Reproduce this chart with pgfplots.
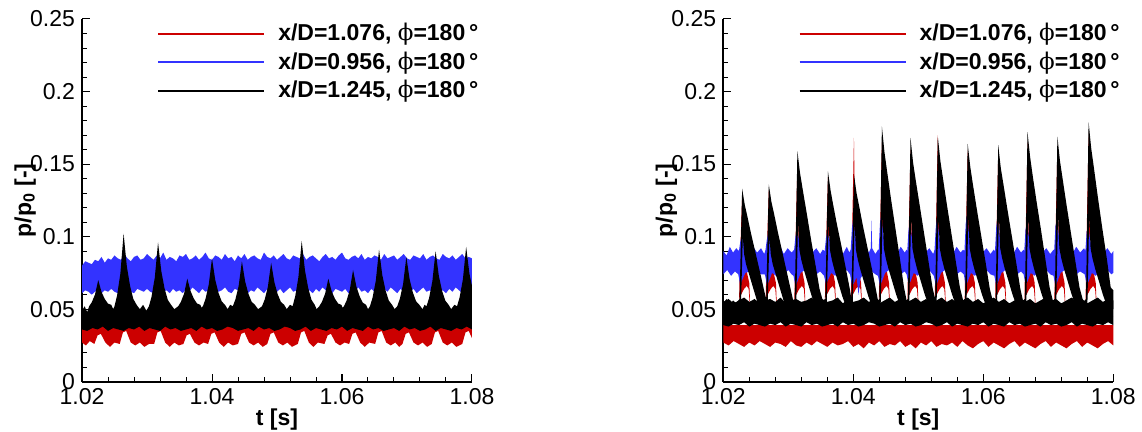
\documentclass[border=0pt]{standalone}
\usepackage{fontspec}
\setmainfont{Liberation Sans}
\newfontfamily\symfont{DejaVu Serif}
\usepackage{pgfplots}
\pgfplotsset{compat=1.18}
\usepgfplotslibrary{fillbetween}
\definecolor{cred}{RGB}{204,0,0}
\definecolor{cblue}{RGB}{51,51,255}
\newcommand\phisym{{\symfont\mdseries ϕ}}
\pgfplotsset{panel/.style={
  scale only axis, width=195pt, height=181.35pt,
  xmin=1.02, xmax=1.08, ymin=0, ymax=0.25,
  axis lines=left, axis line style={-, line width=1pt},
  xtick={1.02,1.04,1.06,1.08}, xticklabels={1.02,1.04,1.06,1.08},
  ytick={0,0.05,0.1,0.15,0.2,0.25}, yticklabels={0,0.05,0.1,0.15,0.2,0.25},
  minor x tick num=4, minor y tick num=4,
  tick align=inside, major tick length=4pt, minor tick length=2.5pt,
  every tick/.style={black, line width=0.5pt},
  ticklabel style={font=\fontsize{11.5}{13}\selectfont},
  label style={font=\bfseries\fontsize{11.5}{13}\selectfont},
  xlabel={t [s]}, ylabel={p/p\textsubscript{0} [-]},
  xlabel style={at={(axis description cs:0.5,-0.105)}, anchor=center},
  ylabel style={at={(axis description cs:-0.146,0.5)}, anchor=center},
  legend style={draw=none, fill=none, at={(axis description cs:0.192,1.0)}, anchor=north west,
    font=\bfseries\fontsize{11.5}{14}\selectfont, inner sep=0pt, row sep=0pt},
  legend cell align=left,
  legend image code/.code={\draw[##1] (0pt,0pt) -- (53pt,0pt);},
  clip=true,
}}
\begin{document}
\begin{tikzpicture}
% ================= LEFT PANEL =================
\begin{axis}[panel, at={(41pt,25.15pt)}, anchor=south west]
\addlegendimage{cred, line width=1pt}\addlegendentry{\hspace{4.5pt}x/D=1.076, \phisym=180\,°}
\addlegendimage{cblue, line width=1pt}\addlegendentry{\hspace{4.5pt}x/D=0.956, \phisym=180\,°}
\addlegendimage{black, line width=1pt}\addlegendentry{\hspace{4.5pt}x/D=1.245, \phisym=180\,°}
% red
\addplot[draw=none, name path=LRu, forget plot] coordinates {(1.0200,.040)(1.0800,.040)};
\addplot[draw=none, name path=LRl, forget plot] coordinates {
(1.0200,.027)(1.0206,.025)(1.0212,.028)
(1.0219,.026)(1.0224,.032)(1.0229,.033)(1.0236,.027)(1.0243,.024)(1.0250,.027)
(1.0258,.026)(1.0263,.034)(1.0268,.035)(1.0275,.027)(1.0282,.025)(1.0289,.027)(1.0296,.024)(1.0303,.026)
(1.0311,.026)(1.0316,.034)(1.0321,.035)(1.0328,.027)(1.0335,.024)(1.0342,.027)(1.0349,.025)
(1.0356,.026)(1.0361,.032)(1.0366,.033)(1.0373,.027)(1.0380,.025)(1.0387,.027)
(1.0394,.026)(1.0399,.033)(1.0404,.034)(1.0411,.027)(1.0418,.024)(1.0425,.027)(1.0432,.025)
(1.0440,.026)(1.0445,.033)(1.0450,.034)(1.0457,.027)(1.0464,.025)(1.0471,.027)(1.0478,.024)
(1.0485,.026)(1.0490,.033)(1.0495,.034)(1.0502,.027)(1.0509,.025)(1.0516,.027)(1.0523,.024)
(1.0532,.026)(1.0537,.034)(1.0542,.035)(1.0549,.027)(1.0556,.024)(1.0563,.027)
(1.0573,.026)(1.0578,.032)(1.0583,.033)(1.0590,.027)(1.0597,.025)(1.0604,.027)
(1.0611,.026)(1.0616,.033)(1.0621,.034)(1.0628,.027)(1.0635,.024)(1.0642,.027)
(1.0651,.026)(1.0656,.034)(1.0661,.035)(1.0668,.027)(1.0675,.025)(1.0682,.027)(1.0688,.024)
(1.0693,.026)(1.0698,.033)(1.0703,.034)(1.0710,.027)(1.0717,.025)(1.0724,.027)(1.0731,.024)
(1.0738,.026)(1.0743,.034)(1.0748,.035)(1.0755,.027)(1.0762,.025)(1.0769,.027)(1.0776,.024)
(1.0785,.026)(1.0790,.034)(1.0795,.035)(1.0800,.030)};
\addplot[cred, draw=none, forget plot] fill between[of=LRu and LRl];
% blue upper
\addplot[draw=none, name path=LBu, forget plot] coordinates {
(1.0200,.080)(1.0205,.083)(1.0210,.082)(1.0215,.081)(1.0220,.084)(1.0225,.083)(1.0230,.086)(1.0235,.082)(1.0240,.085)(1.0245,.084)
(1.0250,.087)(1.0255,.085)(1.0260,.084)(1.0265,.088)(1.0270,.085)(1.0275,.083)(1.0280,.086)(1.0285,.087)(1.0290,.084)(1.0295,.085)
(1.0300,.088)(1.0305,.086)(1.0310,.084)(1.0315,.087)(1.0320,.085)(1.0325,.089)(1.0330,.084)(1.0335,.086)(1.0340,.085)(1.0345,.083)
(1.0350,.087)(1.0355,.086)(1.0360,.088)(1.0365,.084)(1.0370,.085)(1.0375,.087)(1.0380,.084)(1.0385,.086)(1.0390,.089)(1.0395,.085)
(1.0400,.084)(1.0405,.087)(1.0410,.086)(1.0415,.084)(1.0420,.088)(1.0425,.085)(1.0430,.086)(1.0435,.083)(1.0440,.087)(1.0445,.085)
(1.0450,.088)(1.0455,.084)(1.0460,.086)(1.0465,.087)(1.0470,.085)(1.0475,.084)(1.0480,.089)(1.0485,.086)(1.0490,.085)(1.0495,.087)
(1.0500,.084)(1.0505,.086)(1.0510,.088)(1.0515,.085)(1.0520,.084)(1.0525,.087)(1.0530,.086)(1.0535,.085)(1.0540,.088)(1.0545,.084)
(1.0550,.086)(1.0555,.087)(1.0560,.085)(1.0565,.083)(1.0570,.086)(1.0575,.088)(1.0580,.085)(1.0585,.086)(1.0590,.084)(1.0595,.087)
(1.0600,.089)(1.0605,.085)(1.0610,.084)(1.0615,.086)(1.0620,.087)(1.0625,.085)(1.0630,.088)(1.0635,.084)(1.0640,.086)(1.0645,.085)
(1.0650,.087)(1.0655,.086)(1.0660,.084)(1.0665,.088)(1.0670,.085)(1.0675,.086)(1.0680,.087)(1.0685,.084)(1.0690,.086)(1.0695,.088)
(1.0700,.085)(1.0705,.084)(1.0710,.087)(1.0715,.086)(1.0720,.085)(1.0725,.088)(1.0730,.084)(1.0735,.086)(1.0740,.087)(1.0745,.085)
(1.0750,.084)(1.0755,.088)(1.0760,.086)(1.0765,.085)(1.0770,.087)(1.0775,.084)(1.0780,.086)(1.0785,.088)(1.0790,.085)(1.0795,.086)
(1.0800,.085)};
% blue lower
\addplot[draw=none, name path=LBl, forget plot] coordinates {
(1.0200,.061)(1.0205,.063)(1.0210,.062)(1.0215,.060)(1.0220,.062)(1.0225,.064)(1.0230,.061)(1.0235,.063)(1.0240,.062)(1.0245,.064)
(1.0250,.062)(1.0255,.061)(1.0260,.064)(1.0265,.063)(1.0270,.065)(1.0275,.062)(1.0280,.061)(1.0285,.064)(1.0290,.063)(1.0295,.062)
(1.0300,.064)(1.0305,.062)(1.0310,.061)(1.0315,.063)(1.0320,.065)(1.0325,.062)(1.0330,.063)(1.0335,.061)(1.0340,.064)(1.0345,.062)
(1.0350,.063)(1.0355,.061)(1.0360,.064)(1.0365,.062)(1.0370,.065)(1.0375,.063)(1.0380,.061)(1.0385,.064)(1.0390,.062)(1.0395,.063)
(1.0400,.061)(1.0405,.064)(1.0410,.062)(1.0415,.063)(1.0420,.065)(1.0425,.062)(1.0430,.061)(1.0435,.064)(1.0440,.063)(1.0445,.062)
(1.0450,.064)(1.0455,.061)(1.0460,.063)(1.0465,.062)(1.0470,.065)(1.0475,.063)(1.0480,.061)(1.0485,.064)(1.0490,.062)(1.0495,.063)
(1.0500,.062)(1.0505,.064)(1.0510,.061)(1.0515,.063)(1.0520,.065)(1.0525,.062)(1.0530,.063)(1.0535,.061)(1.0540,.064)(1.0545,.062)
(1.0550,.063)(1.0555,.061)(1.0560,.064)(1.0565,.062)(1.0570,.065)(1.0575,.063)(1.0580,.062)(1.0585,.061)(1.0590,.064)(1.0595,.063)
(1.0600,.062)(1.0605,.064)(1.0610,.061)(1.0615,.063)(1.0620,.062)(1.0625,.065)(1.0630,.062)(1.0635,.063)(1.0640,.061)(1.0645,.064)
(1.0650,.062)(1.0655,.063)(1.0660,.061)(1.0665,.064)(1.0670,.062)(1.0675,.065)(1.0680,.063)(1.0685,.061)(1.0690,.064)(1.0695,.062)
(1.0700,.063)(1.0705,.062)(1.0710,.064)(1.0715,.061)(1.0720,.063)(1.0725,.065)(1.0730,.062)(1.0735,.063)(1.0740,.061)(1.0745,.064)
(1.0750,.062)(1.0755,.063)(1.0760,.061)(1.0765,.064)(1.0770,.062)(1.0775,.065)(1.0780,.063)(1.0785,.061)(1.0790,.062)(1.0795,.064)
(1.0800,.062)};
\addplot[cblue, draw=none, forget plot] fill between[of=LBu and LBl];
% black upper
\addplot[draw=none, name path=LKu, forget plot] coordinates {
(1.0200,.049)(1.0204,.052)(1.0208,.048)
(1.0211,.052)(1.0215,.0547)(1.0220,.0601)(1.0225,.070)(1.0230,.0619)(1.0235,.057)(1.0240,.0538)(1.0245,.053)(1.0248,.050)
(1.0250,.052)(1.0254,.0595)(1.0259,.0745)(1.0264,.102)(1.0269,.0795)(1.0274,.066)(1.0279,.057)(1.0284,.053)(1.0289,.050)(1.0294,.053)(1.0299,.049)
(1.0303,.052)(1.0307,.0586)(1.0312,.0718)(1.0317,.096)(1.0322,.0762)(1.0327,.0643)(1.0332,.0564)(1.0337,.053)(1.0342,.050)
(1.0348,.052)(1.0352,.0549)(1.0357,.0606)(1.0362,.071)(1.0367,.0625)(1.0372,.0573)(1.0377,.0539)(1.0382,.053)(1.0384,.051)
(1.0386,.052)(1.0390,.057)(1.0395,.0669)(1.0400,.085)(1.0405,.0702)(1.0410,.0612)(1.0415,.0553)(1.0420,.053)(1.0424,.050)(1.0428,.053)
(1.0432,.052)(1.0436,.0567)(1.0441,.066)(1.0446,.083)(1.0451,.0691)(1.0456,.0607)(1.0461,.0551)(1.0466,.053)(1.0471,.050)
(1.0477,.052)(1.0481,.0565)(1.0486,.0655)(1.0491,.082)(1.0496,.0685)(1.0501,.0604)(1.0506,.055)(1.0511,.053)(1.0515,.050)(1.0520,.053)
(1.0524,.052)(1.0528,.0588)(1.0533,.0723)(1.0538,.097)(1.0543,.0768)(1.0548,.0646)(1.0553,.0565)(1.0558,.053)(1.0561,.050)
(1.0565,.052)(1.0569,.0549)(1.0574,.0606)(1.0579,.071)(1.0584,.0625)(1.0589,.0573)(1.0594,.0539)(1.0599,.053)(1.0601,.051)
(1.0603,.052)(1.0607,.0558)(1.0612,.0633)(1.0617,.077)(1.0622,.0658)(1.0627,.059)(1.0632,.0545)(1.0637,.053)(1.0640,.050)
(1.0643,.052)(1.0647,.0579)(1.0652,.0696)(1.0657,.091)(1.0662,.0735)(1.0667,.0629)(1.0672,.0559)(1.0677,.053)(1.0681,.050)
(1.0685,.052)(1.0689,.0571)(1.0694,.0673)(1.0699,.086)(1.0704,.0707)(1.0709,.0615)(1.0714,.0554)(1.0719,.053)(1.0724,.050)(1.0727,.053)
(1.0730,.052)(1.0734,.0577)(1.0739,.0691)(1.0744,.090)(1.0749,.0729)(1.0754,.0626)(1.0759,.0558)(1.0764,.053)(1.0768,.050)(1.0773,.053)
(1.0777,.052)(1.0781,.0582)(1.0786,.0705)(1.0791,.093)(1.0796,.0746)(1.0800,.066)};
% black lower
\addplot[draw=none, name path=LKl, forget plot] coordinates {
(1.0200,.036)(1.0208,.035)(1.0216,.037)(1.0224,.036)(1.0232,.038)(1.0240,.035)(1.0248,.037)(1.0256,.036)(1.0264,.035)(1.0272,.037)
(1.0280,.036)(1.0288,.038)(1.0296,.035)(1.0304,.037)(1.0312,.036)(1.0320,.035)(1.0328,.038)(1.0336,.036)(1.0344,.037)(1.0352,.035)
(1.0360,.036)(1.0368,.037)(1.0376,.035)(1.0384,.038)(1.0392,.036)(1.0400,.037)(1.0408,.035)(1.0416,.036)(1.0424,.038)(1.0432,.037)
(1.0440,.035)(1.0448,.036)(1.0456,.037)(1.0464,.035)(1.0472,.038)(1.0480,.036)(1.0488,.037)(1.0496,.035)(1.0504,.036)(1.0512,.038)
(1.0520,.037)(1.0528,.035)(1.0536,.036)(1.0544,.038)(1.0552,.035)(1.0560,.037)(1.0568,.036)(1.0576,.035)(1.0584,.037)(1.0592,.036)
(1.0600,.038)(1.0608,.035)(1.0616,.037)(1.0624,.036)(1.0632,.035)(1.0640,.038)(1.0648,.036)(1.0656,.037)(1.0664,.035)(1.0672,.036)
(1.0680,.037)(1.0688,.035)(1.0696,.038)(1.0704,.036)(1.0712,.037)(1.0720,.035)(1.0728,.036)(1.0736,.038)(1.0744,.035)(1.0752,.037)
(1.0760,.036)(1.0768,.035)(1.0776,.037)(1.0784,.036)(1.0792,.038)(1.0800,.036)};
\addplot[black, draw=none, forget plot] fill between[of=LKu and LKl];
\end{axis}
% ================= RIGHT PANEL =================
\begin{axis}[panel, at={(361.65pt,25.15pt)}, anchor=south west]
\addlegendimage{cred, line width=1pt}\addlegendentry{\hspace{4.5pt}x/D=1.076, \phisym=180\,°}
\addlegendimage{cblue, line width=1pt}\addlegendentry{\hspace{4.5pt}x/D=0.956, \phisym=180\,°}
\addlegendimage{black, line width=1pt}\addlegendentry{\hspace{4.5pt}x/D=1.245, \phisym=180\,°}
% red baseline band
\addplot[draw=none, name path=RRbu, forget plot] coordinates {(1.0200,.039)(1.0800,.039)};
\addplot[draw=none, name path=RRbl, forget plot] coordinates {
(1.0200,.027)(1.0208,.025)(1.0216,.028)(1.0224,.026)(1.0232,.024)(1.0240,.027)(1.0248,.025)(1.0256,.028)(1.0264,.026)(1.0272,.024)
(1.0280,.027)(1.0288,.026)(1.0296,.024)(1.0304,.028)(1.0312,.025)(1.0320,.024)(1.0328,.027)(1.0336,.025)(1.0344,.028)(1.0352,.026)
(1.0360,.024)(1.0368,.027)(1.0376,.025)(1.0384,.026)(1.0392,.028)(1.0400,.024)(1.0408,.026)(1.0416,.023)(1.0424,.027)(1.0432,.025)
(1.0440,.028)(1.0448,.024)(1.0456,.026)(1.0464,.025)(1.0472,.028)(1.0480,.024)(1.0488,.026)(1.0496,.023)(1.0504,.027)(1.0512,.025)
(1.0520,.028)(1.0528,.024)(1.0536,.026)(1.0544,.025)(1.0552,.027)(1.0560,.024)(1.0568,.028)(1.0576,.025)(1.0584,.023)(1.0592,.026)
(1.0600,.028)(1.0608,.024)(1.0616,.027)(1.0624,.025)(1.0632,.023)(1.0640,.026)(1.0648,.028)(1.0656,.024)(1.0664,.027)(1.0672,.025)
(1.0680,.023)(1.0688,.026)(1.0696,.028)(1.0704,.024)(1.0712,.027)(1.0720,.025)(1.0728,.023)(1.0736,.026)(1.0744,.028)(1.0752,.024)
(1.0760,.027)(1.0768,.025)(1.0776,.023)(1.0784,.026)(1.0792,.028)(1.0800,.025)};
\addplot[cred, draw=none, forget plot] fill between[of=RRbu and RRbl];
% red teeth
\addplot[draw=none, name path=RRtu, forget plot] coordinates {
(1.0200,.045)
(1.0224,.045)(1.0225,.076)(1.0229,.128)(1.0231,.090)(1.0234,.082)(1.0237,.074)(1.0240,.068)(1.0242,.045)
(1.0265,.045)(1.0266,.076)(1.0270,.132)(1.0272,.090)(1.0275,.082)(1.0278,.074)(1.0281,.068)(1.0283,.045)
(1.0309,.045)(1.0310,.076)(1.0314,.150)(1.0316,.100)(1.0319,.085)(1.0322,.075)(1.0325,.068)(1.0327,.045)
(1.0356,.045)(1.0357,.076)(1.0361,.141)(1.0363,.100)(1.0366,.085)(1.0369,.075)(1.0372,.068)(1.0374,.045)
(1.0396,.045)(1.0397,.076)(1.0401,.168)(1.0403,.100)(1.0406,.085)(1.0409,.075)(1.0412,.068)(1.0414,.045)
(1.0439,.045)(1.0440,.076)(1.0444,.165)(1.0446,.100)(1.0449,.085)(1.0452,.075)(1.0455,.068)(1.0457,.045)
(1.0483,.045)(1.0484,.076)(1.0488,.160)(1.0490,.100)(1.0493,.085)(1.0496,.075)(1.0499,.068)(1.0501,.045)
(1.0525,.045)(1.0526,.076)(1.0530,.170)(1.0532,.100)(1.0535,.085)(1.0538,.075)(1.0541,.068)(1.0543,.045)
(1.0571,.045)(1.0572,.076)(1.0576,.160)(1.0578,.100)(1.0581,.085)(1.0584,.075)(1.0587,.068)(1.0589,.045)
(1.0618,.045)(1.0619,.076)(1.0623,.158)(1.0625,.100)(1.0628,.085)(1.0631,.075)(1.0634,.068)(1.0636,.045)
(1.0663,.045)(1.0664,.076)(1.0668,.165)(1.0670,.100)(1.0673,.085)(1.0676,.075)(1.0679,.068)(1.0681,.045)
(1.0709,.045)(1.0710,.076)(1.0714,.163)(1.0716,.100)(1.0719,.085)(1.0722,.075)(1.0725,.068)(1.0727,.045)
(1.0757,.045)(1.0758,.076)(1.0762,.172)(1.0764,.100)(1.0767,.085)(1.0770,.075)(1.0773,.068)(1.0775,.045)(1.0800,.045)};
\addplot[draw=none, name path=RRtl, forget plot] coordinates {
(1.0200,.045)
(1.0224,.045)(1.0225,.058)(1.0232,.064)(1.0236,.066)(1.0239,.064)(1.0242,.045)
(1.0265,.045)(1.0266,.058)(1.0273,.064)(1.0277,.066)(1.0280,.064)(1.0283,.045)
(1.0309,.045)(1.0310,.058)(1.0317,.064)(1.0321,.066)(1.0324,.064)(1.0327,.045)
(1.0356,.045)(1.0357,.058)(1.0364,.064)(1.0368,.066)(1.0371,.064)(1.0374,.045)
(1.0396,.045)(1.0397,.058)(1.0404,.064)(1.0408,.066)(1.0411,.064)(1.0414,.045)
(1.0439,.045)(1.0440,.058)(1.0447,.064)(1.0451,.066)(1.0454,.064)(1.0457,.045)
(1.0483,.045)(1.0484,.058)(1.0491,.064)(1.0495,.066)(1.0498,.064)(1.0501,.045)
(1.0525,.045)(1.0526,.058)(1.0533,.064)(1.0537,.066)(1.0540,.064)(1.0543,.045)
(1.0571,.045)(1.0572,.058)(1.0579,.064)(1.0583,.066)(1.0586,.064)(1.0589,.045)
(1.0618,.045)(1.0619,.058)(1.0626,.064)(1.0630,.066)(1.0633,.064)(1.0636,.045)
(1.0663,.045)(1.0664,.058)(1.0671,.064)(1.0675,.066)(1.0678,.064)(1.0681,.045)
(1.0709,.045)(1.0710,.058)(1.0717,.064)(1.0721,.066)(1.0724,.064)(1.0727,.045)
(1.0757,.045)(1.0758,.058)(1.0765,.064)(1.0769,.066)(1.0772,.064)(1.0775,.045)(1.0800,.045)};
\addplot[cred, draw=none, forget plot] fill between[of=RRtu and RRtl];
% blue upper
\addplot[draw=none, name path=RBu, forget plot] coordinates {
(1.0200,.090)(1.0205,.087)(1.0210,.093)(1.0215,.089)(1.0220,.092)
(1.0224,.090)(1.0226,.096)(1.0228,.100)(1.0231,.097)(1.0234,.092)(1.0240,.088)(1.0246,.093)(1.0252,.089)(1.0258,.092)(1.0263,.088)
(1.0265,.091)(1.0267,.098)(1.0269,.102)(1.0272,.098)(1.0275,.093)(1.0281,.089)(1.0287,.094)(1.0293,.088)(1.0299,.092)(1.0305,.089)
(1.0309,.091)(1.0311,.100)(1.0313,.104)(1.0316,.099)(1.0319,.092)(1.0325,.088)(1.0331,.093)(1.0337,.089)(1.0343,.092)(1.0349,.088)(1.0353,.091)
(1.0356,.090)(1.0358,.099)(1.0360,.103)(1.0363,.098)(1.0366,.093)(1.0372,.089)(1.0378,.092)(1.0384,.088)(1.0390,.093)(1.0394,.089)
(1.0396,.091)(1.0398,.106)(1.0400,.112)(1.0403,.101)(1.0406,.092)(1.0412,.088)(1.0418,.093)(1.0424,.089)(1.0427,.092)(1.0428,.111)(1.0429,.092)(1.0434,.088)(1.0438,.091)
(1.0439,.090)(1.0441,.109)(1.0443,.115)(1.0446,.103)(1.0449,.093)(1.0455,.089)(1.0461,.092)(1.0467,.088)(1.0473,.093)(1.0479,.089)(1.0482,.091)
(1.0483,.090)(1.0485,.105)(1.0487,.110)(1.0490,.100)(1.0493,.092)(1.0499,.088)(1.0505,.093)(1.0511,.089)(1.0517,.092)(1.0523,.088)
(1.0525,.091)(1.0527,.107)(1.0529,.113)(1.0532,.101)(1.0535,.093)(1.0541,.089)(1.0547,.092)(1.0553,.088)(1.0559,.093)(1.0565,.089)(1.0569,.091)
(1.0571,.090)(1.0573,.109)(1.0575,.115)(1.0578,.102)(1.0581,.092)(1.0587,.088)(1.0593,.093)(1.0599,.089)(1.0605,.092)(1.0611,.088)(1.0616,.091)
(1.0618,.090)(1.0620,.107)(1.0622,.112)(1.0625,.101)(1.0628,.093)(1.0634,.089)(1.0640,.092)(1.0646,.088)(1.0652,.093)(1.0658,.089)(1.0662,.091)
(1.0663,.090)(1.0665,.105)(1.0667,.110)(1.0670,.100)(1.0673,.092)(1.0679,.088)(1.0685,.093)(1.0691,.089)(1.0697,.092)(1.0703,.088)(1.0708,.091)
(1.0709,.090)(1.0711,.107)(1.0713,.112)(1.0716,.101)(1.0719,.093)(1.0725,.089)(1.0731,.092)(1.0737,.088)(1.0743,.093)(1.0749,.089)(1.0755,.092)
(1.0757,.090)(1.0759,.103)(1.0761,.108)(1.0764,.099)(1.0767,.092)(1.0773,.088)(1.0779,.093)(1.0785,.089)(1.0791,.092)(1.0797,.088)(1.0800,.090)};
% blue lower
\addplot[draw=none, name path=RBl, forget plot] coordinates {
(1.0200,.074)(1.0206,.077)(1.0212,.073)(1.0218,.076)
(1.0223,.074)(1.0226,.067)(1.0229,.070)(1.0234,.075)(1.0240,.076)(1.0246,.073)(1.0252,.076)(1.0258,.074)
(1.0264,.074)(1.0267,.067)(1.0270,.069)(1.0275,.075)(1.0281,.073)(1.0287,.076)(1.0293,.074)(1.0300,.077)(1.0305,.074)
(1.0308,.073)(1.0311,.066)(1.0314,.069)(1.0319,.075)(1.0325,.077)(1.0331,.073)(1.0337,.076)(1.0343,.074)(1.0349,.076)
(1.0355,.073)(1.0358,.067)(1.0361,.070)(1.0366,.075)(1.0372,.073)(1.0378,.076)(1.0384,.074)(1.0390,.077)
(1.0395,.074)(1.0398,.066)(1.0401,.068)(1.0405,.072)(1.0408,.060)(1.0411,.071)(1.0416,.075)(1.0422,.073)(1.0428,.076)(1.0434,.074)
(1.0438,.073)(1.0441,.066)(1.0444,.069)(1.0449,.075)(1.0455,.077)(1.0461,.073)(1.0467,.076)(1.0473,.074)(1.0479,.076)
(1.0482,.074)(1.0485,.067)(1.0488,.069)(1.0493,.075)(1.0499,.073)(1.0505,.076)(1.0511,.074)(1.0517,.077)(1.0522,.074)
(1.0524,.073)(1.0527,.066)(1.0530,.069)(1.0535,.075)(1.0541,.077)(1.0547,.073)(1.0553,.076)(1.0559,.074)(1.0565,.076)
(1.0570,.074)(1.0573,.066)(1.0576,.069)(1.0581,.075)(1.0587,.073)(1.0593,.076)(1.0599,.074)(1.0605,.077)(1.0611,.074)
(1.0617,.073)(1.0620,.066)(1.0623,.069)(1.0628,.075)(1.0634,.077)(1.0640,.073)(1.0646,.076)(1.0652,.074)(1.0658,.076)
(1.0662,.074)(1.0665,.067)(1.0668,.069)(1.0673,.075)(1.0679,.073)(1.0685,.076)(1.0691,.074)(1.0697,.077)(1.0703,.074)
(1.0708,.073)(1.0711,.066)(1.0714,.069)(1.0719,.075)(1.0725,.077)(1.0731,.073)(1.0737,.076)(1.0743,.074)(1.0749,.076)
(1.0756,.074)(1.0759,.067)(1.0762,.069)(1.0767,.075)(1.0773,.073)(1.0779,.076)(1.0785,.074)(1.0791,.077)(1.0797,.074)(1.0800,.075)};
\addplot[cblue, draw=none, forget plot] fill between[of=RBu and RBl];
% black baseline band
\addplot[draw=none, name path=RKbu, forget plot] coordinates {
(1.0200,.055)(1.0208,.057)(1.0216,.054)(1.0224,.056)(1.0232,.058)(1.0240,.055)(1.0248,.057)(1.0256,.054)(1.0264,.056)(1.0272,.057)
(1.0280,.055)(1.0288,.058)(1.0296,.054)(1.0304,.056)(1.0312,.057)(1.0320,.055)(1.0328,.056)(1.0336,.058)(1.0344,.054)(1.0352,.057)
(1.0360,.055)(1.0368,.056)(1.0376,.058)(1.0384,.054)(1.0392,.057)(1.0400,.055)(1.0408,.056)(1.0416,.058)(1.0424,.055)(1.0432,.057)
(1.0440,.054)(1.0448,.056)(1.0456,.058)(1.0464,.055)(1.0472,.057)(1.0480,.054)(1.0488,.056)(1.0496,.058)(1.0504,.055)(1.0512,.057)
(1.0520,.054)(1.0528,.056)(1.0536,.058)(1.0544,.055)(1.0552,.057)(1.0560,.054)(1.0568,.056)(1.0576,.058)(1.0584,.055)(1.0592,.057)
(1.0600,.054)(1.0608,.056)(1.0616,.058)(1.0624,.055)(1.0632,.057)(1.0640,.054)(1.0648,.056)(1.0656,.058)(1.0664,.055)(1.0672,.057)
(1.0680,.054)(1.0688,.056)(1.0696,.058)(1.0704,.055)(1.0712,.057)(1.0720,.054)(1.0728,.056)(1.0736,.058)(1.0744,.055)(1.0752,.057)
(1.0760,.054)(1.0768,.056)(1.0776,.058)(1.0784,.055)(1.0792,.057)(1.0800,.056)};
\addplot[draw=none, name path=RKbl, forget plot] coordinates {
(1.0200,.039)(1.0208,.038)(1.0216,.040)(1.0224,.039)(1.0232,.041)(1.0240,.038)(1.0248,.040)(1.0256,.039)(1.0264,.038)(1.0272,.040)
(1.0280,.039)(1.0288,.041)(1.0296,.038)(1.0304,.040)(1.0312,.039)(1.0320,.038)(1.0328,.041)(1.0336,.039)(1.0344,.040)(1.0352,.038)
(1.0360,.039)(1.0368,.040)(1.0376,.038)(1.0384,.041)(1.0392,.039)(1.0400,.040)(1.0408,.038)(1.0416,.039)(1.0424,.041)(1.0432,.040)
(1.0440,.038)(1.0448,.039)(1.0456,.040)(1.0464,.038)(1.0472,.041)(1.0480,.039)(1.0488,.040)(1.0496,.038)(1.0504,.039)(1.0512,.041)
(1.0520,.040)(1.0528,.038)(1.0536,.039)(1.0544,.041)(1.0552,.038)(1.0560,.040)(1.0568,.039)(1.0576,.038)(1.0584,.040)(1.0592,.039)
(1.0600,.041)(1.0608,.038)(1.0616,.040)(1.0624,.039)(1.0632,.038)(1.0640,.041)(1.0648,.039)(1.0656,.040)(1.0664,.038)(1.0672,.039)
(1.0680,.040)(1.0688,.038)(1.0696,.041)(1.0704,.039)(1.0712,.040)(1.0720,.038)(1.0728,.039)(1.0736,.041)(1.0744,.038)(1.0752,.040)
(1.0760,.039)(1.0768,.038)(1.0776,.040)(1.0784,.039)(1.0792,.041)(1.0800,.039)};
\addplot[black, draw=none, forget plot] fill between[of=RKbu and RKbl];
% black teeth upper
\addplot[draw=none, name path=RKu, forget plot] coordinates {
(1.0200,.054)(1.0205,.057)(1.0210,.053)(1.0215,.056)(1.0220,.054)
(1.0225,.057)(1.0227,.095)(1.0229,.133)(1.0233,.122)(1.0237,.114)(1.0243,.1015)(1.0250,.088)(1.0257,.0745)(1.0263,.0625)
(1.0266,.057)(1.0268,.0965)(1.0270,.136)(1.0274,.124)(1.0278,.116)(1.0284,.103)(1.0291,.089)(1.0298,.075)(1.0304,.063)(1.0308,.055)
(1.0310,.057)(1.0312,.108)(1.0314,.159)(1.0318,.144)(1.0322,.133)(1.0328,.117)(1.0335,.098)(1.0342,.080)(1.0348,.064)(1.0353,.056)
(1.0357,.057)(1.0359,.101)(1.0361,.145)(1.0365,.132)(1.0369,.122)(1.0375,.108)(1.0382,.093)(1.0389,.077)(1.0395,.063)
(1.0397,.057)(1.0399,.100)(1.0401,.143)(1.0405,.130)(1.0409,.121)(1.0415,.107)(1.0422,.092)(1.0429,.077)(1.0435,.063)(1.0438,.056)
(1.0440,.057)(1.0442,.116)(1.0444,.176)(1.0448,.158)(1.0452,.145)(1.0458,.126)(1.0465,.105)(1.0472,.084)(1.0478,.065)(1.0482,.056)
(1.0484,.057)(1.0486,.112)(1.0488,.168)(1.0492,.151)(1.0496,.139)(1.0502,.122)(1.0509,.102)(1.0516,.082)(1.0522,.0645)
(1.0526,.057)(1.0528,.113)(1.0530,.169)(1.0534,.152)(1.0538,.140)(1.0544,.122)(1.0551,.102)(1.0558,.082)(1.0564,.065)(1.0569,.056)
(1.0572,.057)(1.0574,.110)(1.0576,.164)(1.0580,.148)(1.0584,.136)(1.0590,.119)(1.0597,.100)(1.0604,.081)(1.0610,.064)(1.0615,.055)
(1.0619,.057)(1.0621,.110)(1.0623,.163)(1.0627,.147)(1.0631,.136)(1.0637,.119)(1.0644,.100)(1.0651,.081)(1.0657,.064)(1.0661,.056)
(1.0664,.057)(1.0666,.114)(1.0668,.172)(1.0672,.155)(1.0676,.142)(1.0682,.124)(1.0689,.104)(1.0696,.083)(1.0702,.065)(1.0707,.056)
(1.0710,.057)(1.0712,.113)(1.0714,.169)(1.0718,.152)(1.0722,.140)(1.0728,.122)(1.0735,.102)(1.0742,.082)(1.0748,.065)(1.0754,.055)
(1.0758,.057)(1.0760,.118)(1.0762,.179)(1.0766,.161)(1.0770,.148)(1.0776,.128)(1.0783,.106)(1.0790,.085)(1.0796,.065)(1.0800,.063)};
% black teeth lower
\addplot[draw=none, name path=RKl, forget plot] coordinates {
(1.0200,.050)
(1.0227,.050)(1.0230,.100)(1.0232,.088)(1.0235,.081)(1.0239,.075)(1.0243,.069)(1.0247,.063)(1.0251,.057)(1.0254,.052)(1.0258,.050)
(1.0268,.050)(1.0271,.100)(1.0273,.088)(1.0276,.081)(1.0280,.075)(1.0284,.069)(1.0288,.063)(1.0292,.057)(1.0295,.052)(1.0299,.050)
(1.0312,.050)(1.0315,.110)(1.0317,.091)(1.0320,.084)(1.0324,.077)(1.0328,.071)(1.0332,.065)(1.0336,.059)(1.0340,.054)(1.0344,.050)
(1.0359,.050)(1.0362,.110)(1.0364,.091)(1.0367,.084)(1.0371,.077)(1.0375,.071)(1.0379,.065)(1.0383,.059)(1.0387,.054)(1.0391,.050)
(1.0399,.050)(1.0402,.110)(1.0404,.091)(1.0407,.084)(1.0411,.077)(1.0415,.071)(1.0419,.065)(1.0423,.059)(1.0427,.054)(1.0431,.050)
(1.0442,.050)(1.0445,.115)(1.0447,.092)(1.0450,.085)(1.0454,.078)(1.0458,.072)(1.0462,.066)(1.0466,.060)(1.0470,.055)(1.0474,.050)
(1.0486,.050)(1.0489,.115)(1.0491,.092)(1.0494,.085)(1.0498,.078)(1.0502,.072)(1.0506,.066)(1.0510,.060)(1.0514,.055)(1.0518,.050)
(1.0528,.050)(1.0531,.115)(1.0533,.092)(1.0536,.085)(1.0540,.078)(1.0544,.072)(1.0548,.066)(1.0552,.060)(1.0556,.055)(1.0560,.050)
(1.0574,.050)(1.0577,.115)(1.0579,.092)(1.0582,.085)(1.0586,.078)(1.0590,.072)(1.0594,.066)(1.0598,.060)(1.0602,.055)(1.0606,.050)
(1.0621,.050)(1.0624,.115)(1.0626,.092)(1.0629,.085)(1.0633,.078)(1.0637,.072)(1.0641,.066)(1.0645,.060)(1.0649,.055)(1.0653,.050)
(1.0666,.050)(1.0669,.115)(1.0671,.092)(1.0674,.085)(1.0678,.078)(1.0682,.072)(1.0686,.066)(1.0690,.060)(1.0694,.055)(1.0698,.050)
(1.0712,.050)(1.0715,.115)(1.0717,.092)(1.0720,.085)(1.0724,.078)(1.0728,.072)(1.0732,.066)(1.0736,.060)(1.0740,.055)(1.0744,.050)
(1.0760,.050)(1.0763,.115)(1.0765,.092)(1.0768,.085)(1.0772,.078)(1.0776,.072)(1.0780,.066)(1.0784,.060)(1.0788,.055)(1.0792,.050)(1.0800,.050)};
\addplot[black, draw=none, forget plot] fill between[of=RKu and RKl];
\end{axis}
\pgfresetboundingbox
\useasboundingbox (0,0) rectangle (571pt,216pt);
\end{tikzpicture}
\end{document}
